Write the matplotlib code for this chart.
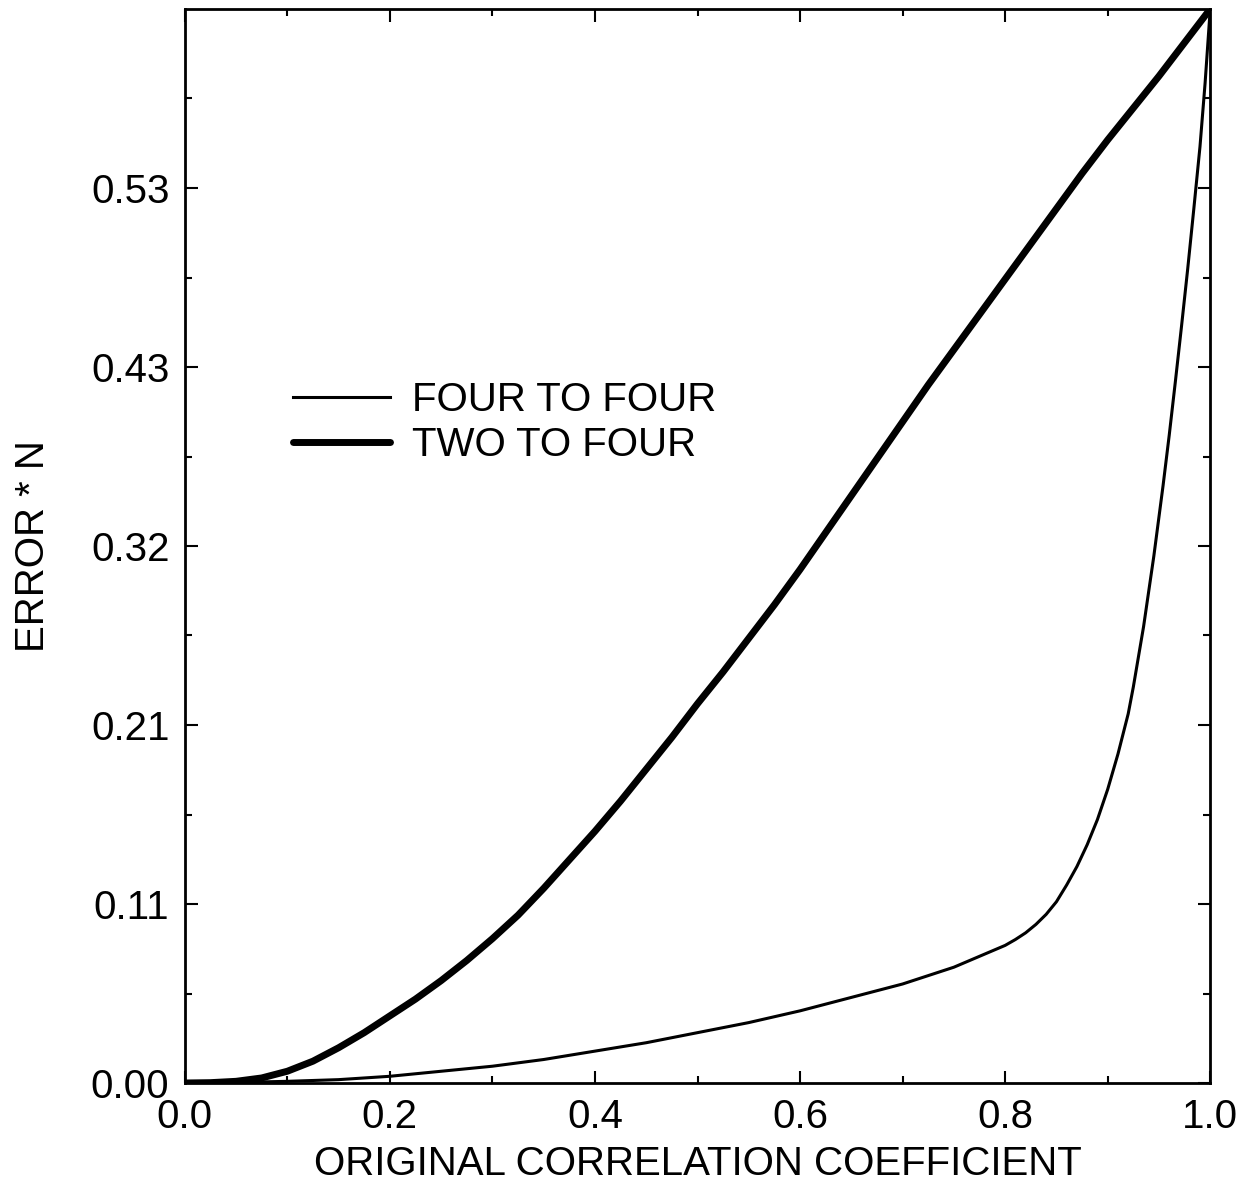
import numpy as np
import matplotlib
matplotlib.use("Agg")
import matplotlib.pyplot as plt
from matplotlib.ticker import MultipleLocator, FixedLocator

plt.rcParams["font.family"] = ["Liberation Sans", "DejaVu Sans"]

# values
x_four = [0.0, 0.05, 0.1, 0.15, 0.2, 0.25, 0.3, 0.35, 0.4, 0.45, 0.5, 0.55, 0.6, 0.65,
          0.7, 0.75, 0.8, 0.81, 0.82, 0.83, 0.84, 0.85, 0.86, 0.87, 0.88, 0.89, 0.9, 0.91,
          0.92, 0.925, 0.935, 0.945, 0.954, 0.96, 0.966, 0.972, 0.978, 0.984, 0.99,
          0.995, 1.0]
y_four = [0.0, 0.0003, 0.001, 0.002, 0.004, 0.007, 0.010, 0.014, 0.019, 0.024, 0.030, 0.036,
          0.043, 0.051, 0.059, 0.069, 0.082, 0.0855, 0.0895, 0.0945, 0.1005, 0.108, 0.118,
          0.129, 0.142, 0.157, 0.175, 0.196, 0.220, 0.236, 0.272, 0.314, 0.356, 0.386,
          0.418, 0.451, 0.485, 0.521, 0.558, 0.596, 0.64]

x_two = [0.0, 0.025, 0.05, 0.075, 0.1, 0.125, 0.15, 0.175, 0.2, 0.225, 0.25, 0.275, 0.3,
         0.325, 0.35, 0.375, 0.4, 0.425, 0.45, 0.475, 0.5, 0.525, 0.55, 0.575, 0.6, 0.625,
         0.65, 0.675, 0.7, 0.725, 0.75, 0.775, 0.8, 0.825, 0.85, 0.875, 0.9, 0.925, 0.95,
         0.975, 1.0]
y_two = [0.0, 0.0002, 0.001, 0.003, 0.007, 0.013, 0.021, 0.030, 0.040, 0.050, 0.061, 0.073,
         0.086, 0.100, 0.116, 0.133, 0.150, 0.168, 0.187, 0.206, 0.226, 0.245, 0.265,
         0.285, 0.306, 0.328, 0.350, 0.372, 0.394, 0.416, 0.437, 0.458, 0.479, 0.500,
         0.521, 0.542, 0.562, 0.581, 0.600, 0.620, 0.64]

xticks = [0.0, 0.2, 0.4, 0.6, 0.8, 1.0]
xtick_labels = ["0.0", "0.2", "0.4", "0.6", "0.8", "1.0"]
yticks = [0.0, 0.1067, 0.2133, 0.32, 0.4267, 0.5333]
ytick_labels = ["0.00", "0.11", "0.21", "0.32", "0.43", "0.53"]

fig = plt.figure(figsize=(12.4, 12), dpi=100)
ax = fig.add_axes([0.149, 0.0975, 0.827, 0.895])

ax.plot(x_four, y_four, color="black", lw=2.2, label="FOUR TO FOUR",
        solid_joinstyle="round")
ax.plot(x_two, y_two, color="black", lw=5.0, label="TWO TO FOUR",
        solid_capstyle="round", solid_joinstyle="round")

ax.set_xlim(0, 1.0)
ax.set_ylim(0, 0.64)
ax.set_xticks(xticks)
ax.set_xticklabels(xtick_labels)
ax.set_yticks(yticks)
ax.set_yticklabels(ytick_labels)
ax.xaxis.set_minor_locator(MultipleLocator(0.1))
ax.yaxis.set_minor_locator(FixedLocator([0.0533, 0.16, 0.2667, 0.3733, 0.48, 0.5867]))

ax.tick_params(which="both", direction="in", top=True, right=True, width=1.5,
               labelsize=29, pad=11)
ax.tick_params(which="major", length=9)
ax.tick_params(which="minor", length=5)
for s in ax.spines.values():
    s.set_linewidth(2.0)

ax.set_xlabel("ORIGINAL CORRELATION COEFFICIENT", fontsize=29, labelpad=6)
ax.set_ylabel("ERROR * N", fontsize=29, labelpad=28)

ax.legend(loc="center left", bbox_to_anchor=(0.106, 0.615), frameon=False, fontsize=29,
          handlelength=2.4, handletextpad=0.55, labelspacing=0.18, borderpad=0,
          borderaxespad=0)

fig.savefig("out.png", dpi=100, facecolor="white")
